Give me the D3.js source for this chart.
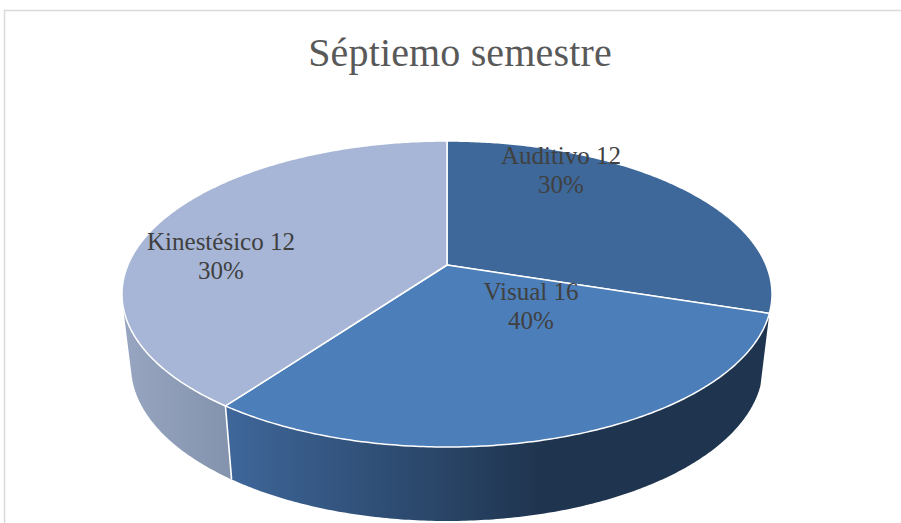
<!DOCTYPE html>
<html>
<head>
<meta charset="utf-8">
<script src="https://cdn.jsdelivr.net/npm/d3@7"></script>
<style>
  html, body { margin: 0; padding: 0; background: #fff; }
  svg { display: block; }
</style>
</head>
<body>
<svg id="chart" width="901" height="523"></svg>
<script>
const categories = ["Auditivo", "Visual", "Kinestésico"];
// what the labels say
const labelValues = [12, 16, 12];
const labelPercents = ["30%", "40%", "30%"];
// what the slices really measure in the picture (labels and slices disagree there)
const sliceValues = [12, 12, 16];

const colors = ["#3e6899", "#4c7eb9", "#a7b6d6"];
const sideColors = [
    ["#2d4c70", "#2d4c70"],
    ["#3e6699", "#1f344e"],
    ["#97a5c0", "#8493ad"]
];

const width = 901, height = 523;
const svg = d3.select("#chart");

// frame of the chart area
svg.append("path")
    .attr("d", `M4.5,${height} V10.5 H${width}`)
    .attr("fill", "none")
    .attr("stroke", "#d9d9d9")
    .attr("stroke-width", 1.5);

svg.append("text")
    .attr("x", 460)
    .attr("y", 66)
    .attr("text-anchor", "middle")
    .attr("fill", "#595959")
    .style("font-family", "'Liberation Serif', serif")
    .style("font-size", "40px")
    .style("letter-spacing", "0.15px")
    .text("Séptiemo semestre");

// perspective pie: the apex sits above the centre of the ellipse
const topEllipse = { cx: 447, cy: 294, rx: 325, ry: 153 };
const bottomEllipse = { cx: 447, cy: 366, rx: 316, ry: 155 };
const k = -29 / 153;

function project(e, angle) {
    const u = Math.sin(angle), v = -Math.cos(angle);
    const w = 1 + k * v;
    return [
        e.cx + e.rx * Math.sqrt(1 - k * k) * u / w,
        e.cy + e.ry * (v + k) / w
    ];
}

function arcPoints(e, a0, a1) {
    const n = Math.max(2, Math.ceil(Math.abs(a1 - a0) / 0.01));
    return d3.range(n + 1).map(i => project(e, a0 + (a1 - a0) * i / n));
}

const pie = d3.pie().sort(null).value(d => d.value);
const slices = pie(categories.map((c, i) => ({ name: c, value: sliceValues[i] })));

const line = d3.line();
const apex = [topEllipse.cx, topEllipse.cy + topEllipse.ry * k];

const defs = svg.append("defs");
slices.forEach((s, i) => {
    const g = defs.append("linearGradient")
        .attr("id", "side" + i)
        .attr("gradientUnits", "userSpaceOnUse")
        .attr("x1", i === 1 ? 232 : 125).attr("x2", i === 1 ? 545 : 232)
        .attr("y1", 0).attr("y2", 0);
    g.append("stop").attr("offset", 0).attr("stop-color", sideColors[i][0]);
    g.append("stop").attr("offset", 1).attr("stop-color", sideColors[i][1]);
});

// walls first, the top face covers whatever is behind it
// each wall is a strip of quads, all wound the same way so the overlaps stay filled
const walls = svg.append("g");
slices.forEach((s, i) => {
    if (i === 0) return;
    const top = arcPoints(topEllipse, s.startAngle, s.endAngle);
    const bottom = arcPoints(bottomEllipse, s.startAngle, s.endAngle);
    const strip = d3.pairs(d3.range(top.length)).map(([a, b]) => {
        const quad = [top[a], top[b], bottom[b], bottom[a]];
        if (d3.polygonArea(quad) < 0) quad.reverse();
        return line(quad) + "Z";
    }).join("");
    walls.append("path")
        .attr("d", strip)
        .attr("fill", `url(#side${i})`);
});
// seam between the walls
slices.slice(1, 2).forEach(s => {
    walls.append("path")
        .attr("d", line([project(topEllipse, s.endAngle), project(bottomEllipse, s.endAngle)]))
        .attr("stroke", "#fff")
        .attr("stroke-width", 1.6)
        .attr("fill", "none");
});

svg.append("g")
    .selectAll("path")
    .data(slices)
    .enter()
    .append("path")
    .attr("d", d => line([apex].concat(arcPoints(topEllipse, d.startAngle, d.endAngle))) + "Z")
    .attr("fill", (d, i) => colors[i])
    .attr("stroke", "#fff")
    .attr("stroke-width", 1.5)
    .attr("stroke-linejoin", "round");

const labelSpots = [[561, 164], [531, 300], [221, 250]];
const labels = svg.append("g")
    .attr("fill", "#404040")
    .attr("text-anchor", "middle")
    .style("font-family", "'Liberation Serif', serif")
    .style("font-size", "25px");

categories.forEach((c, i) => {
    const t = labels.append("text")
        .attr("x", labelSpots[i][0])
        .attr("y", labelSpots[i][1]);
    t.append("tspan").text(`${c} ${labelValues[i]}`);
    t.append("tspan")
        .attr("x", labelSpots[i][0])
        .attr("dy", 29)
        .text(labelPercents[i]);
});
</script>
</body>
</html>
